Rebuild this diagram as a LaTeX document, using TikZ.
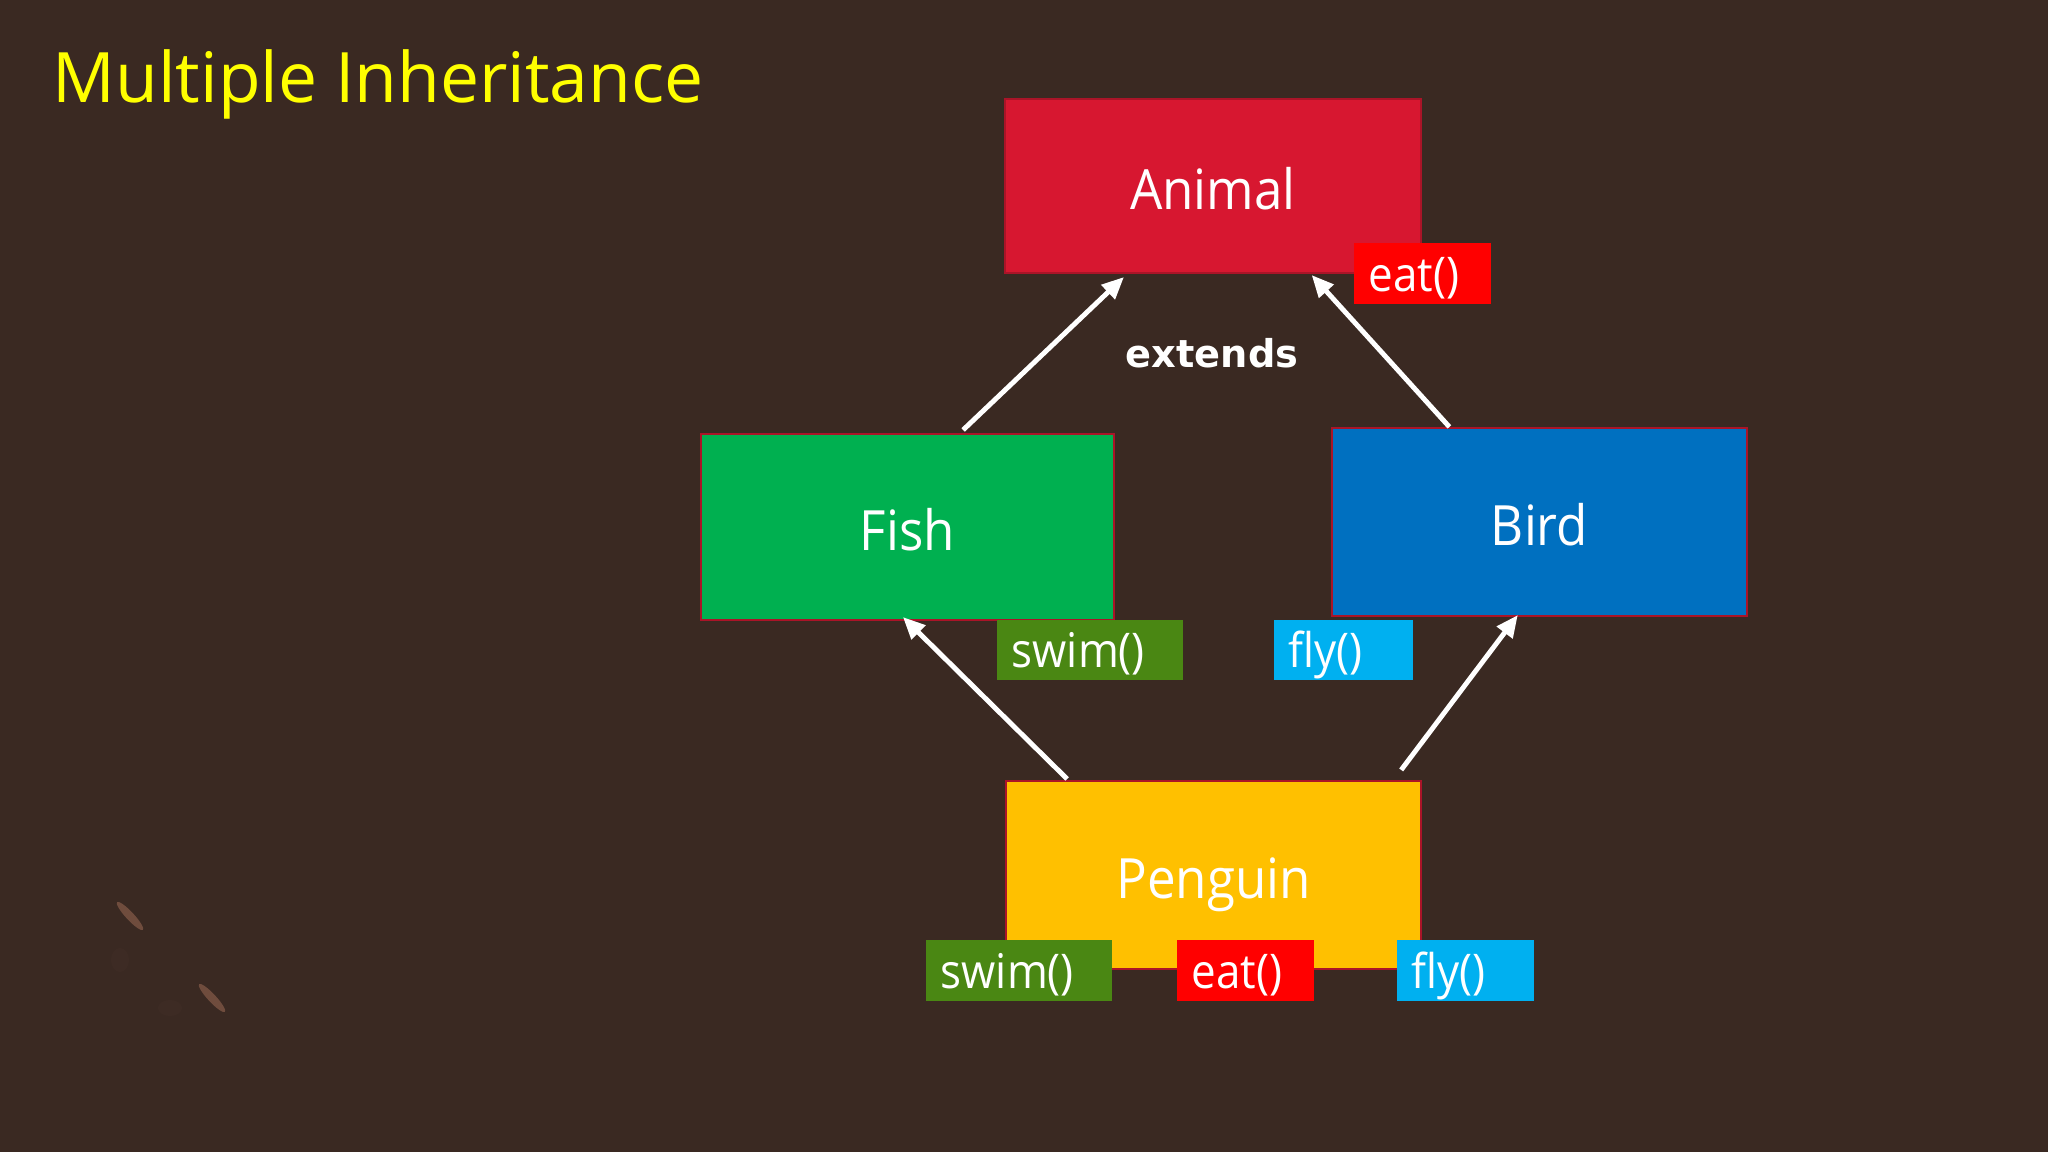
\documentclass[tikz,border=0pt]{standalone}
\usepackage{fontspec}
\usetikzlibrary{arrows.meta,calc}
\newfontfamily\boxfont[FakeStretch=0.92]{Open Sans}
\newfontfamily\titlefont{Open Sans}
\newfontfamily\extfont{DejaVu Sans}
\definecolor{bg}{RGB}{58,41,34}
\definecolor{ttl}{RGB}{255,255,0}
\definecolor{animalc}{RGB}{215,23,48}
\definecolor{fishc}{RGB}{0,176,80}
\definecolor{birdc}{RGB}{0,112,192}
\definecolor{penguinc}{RGB}{255,192,0}
\definecolor{eatc}{RGB}{255,0,0}
\definecolor{swimc}{RGB}{74,135,19}
\definecolor{flyc}{RGB}{0,176,240}
\definecolor{edgec}{RGB}{170,20,40}
\definecolor{speck}{RGB}{125,85,68}
\tikzset{
  classbox/.style={draw=edgec, line width=0.6pt, fill=#1, text=white,
    font=\boxfont\fontsize{15.8}{18}\selectfont,
    text height=13.3pt, text depth=0pt, inner sep=0pt},
  methodbox/.style={fill=#1, text=white, anchor=north west,
    font=\boxfont\fontsize{13.6}{16}\selectfont,
    text height=10.2pt, text depth=0pt, inner ysep=0pt, inner xsep=0.15cm,
    align=left},
  extarrow/.style={draw=white, line width=1.4pt,
    -{Triangle[length=0.22cm,width=0.19cm]}},
}
\begin{document}
\begin{tikzpicture}
\fill[bg] (0,0) rectangle (20.48,-11.52);
\useasboundingbox (0,0) rectangle (20.48,-11.52);

% decorative specks
\fill[speck, opacity=0.8, rotate around={-47:(1.30,-9.16)}] (1.30,-9.16) ellipse (0.19cm and 0.04cm);
\fill[speck, opacity=0.8, rotate around={-47:(2.12,-9.98)}] (2.12,-9.98) ellipse (0.19cm and 0.04cm);
\fill[speck, opacity=0.06] (1.20,-9.60) ellipse (0.09cm and 0.12cm);
\fill[speck, opacity=0.06] (1.70,-10.08) ellipse (0.12cm and 0.08cm);

% title
\node[anchor=base west, inner sep=0pt, text=ttl,
  font=\titlefont\fontsize{19.8}{24}\selectfont] (title) at (0.52,-1.03) {Multiple Inheritance};

% class boxes
\node[classbox=animalc, minimum width=4.16cm, minimum height=1.74cm] (animal) at (12.13,-1.86) {Animal};
\node[classbox=fishc, minimum width=4.13cm, minimum height=1.86cm] (fish) at (9.075,-5.27) {Fish};
\node[classbox=birdc, minimum width=4.15cm, minimum height=1.88cm] (bird) at (15.395,-5.22) {Bird};
\node[classbox=penguinc, minimum width=4.15cm, minimum height=1.88cm] (penguin) at (12.135,-8.75) {Penguin};

% method boxes
\node[methodbox=eatc, text width=1.07cm, minimum height=0.61cm] (eatA) at (13.53,-2.42) {eat()};
\node[methodbox=swimc, text width=1.56cm, minimum height=0.60cm] (swimF) at (9.96,-6.19) {swim()};
\node[methodbox=flyc, text width=1.09cm, minimum height=0.60cm] (flyB) at (12.73,-6.19) {fly()};
\node[methodbox=swimc, text width=1.56cm, minimum height=0.61cm] (swimP) at (9.25,-9.39) {swim()};
\node[methodbox=eatc, text width=1.07cm, minimum height=0.61cm] (eatP) at (11.76,-9.39) {eat()};
\node[methodbox=flyc, text width=1.07cm, minimum height=0.61cm] (flyP) at (13.96,-9.39) {fly()};

% label
\node[anchor=base, inner sep=0pt, text=white,
  font=\extfont\bfseries\fontsize{10.9}{13}\selectfont] (ext) at (12.12,-3.68) {extends};

% arrow end points
\coordinate (a1s) at ($(fish.north west)!0.634!(fish.north east)+(0,0.03)$);
\coordinate (a1e) at ($(animal.south west)!0.287!(animal.south east)+(0,-0.03)$);
\coordinate (a2s) at ($(bird.north west)!0.284!(bird.north east)$);
\coordinate (a2e) at ($(animal.south west)!0.736!(animal.south east)+(0,-0.01)$);
\coordinate (a3s) at ($(penguin.north west)!0.149!(penguin.north east)+(0,0.01)$);
\coordinate (a3e) at ($(fish.south west)!0.489!(fish.south east)+(0,0.04)$);
\coordinate (a4s) at ($(penguin.north west)!0.95!(penguin.north east)+(0,0.10)$);
\coordinate (a4e) at ($(bird.south west)!0.448!(bird.south east)+(0,0.02)$);

\draw[extarrow] (a1s) -- (a1e);
\draw[extarrow] (a2s) -- (a2e);
\draw[extarrow] (a3s) -- (a3e);
\draw[extarrow] (a4s) -- (a4e);
\end{tikzpicture}
\end{document}
